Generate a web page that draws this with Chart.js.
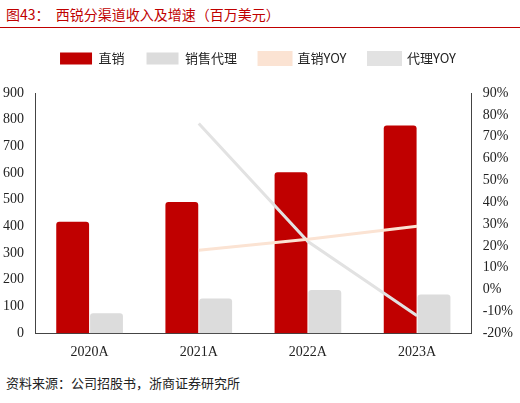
<!DOCTYPE html>
<html><head><meta charset="utf-8">
<script src="https://cdn.jsdelivr.net/npm/chart.js@4"></script>
<style>
body{margin:0;width:520px;height:403px;background:#fff;font-family:"Noto Sans CJK SC",sans-serif;position:relative;overflow:hidden}
#t{position:absolute;left:6px;top:4px;font-size:14px;color:#c00000}
#ln{position:absolute;left:0;top:27px;width:520px;height:1px;background:#c00000}
#wrap{position:absolute;left:0;top:30px;width:520px;height:334px}
#s{position:absolute;left:6px;top:373px;font-size:13px;color:#222}
</style></head><body>
<div id="t">图43：&nbsp;&nbsp;西锐分渠道收入及增速（百万美元）</div>
<div id="ln"></div>
<div id="wrap"><canvas id="c"></canvas></div>
<div id="s">资料来源：公司招股书，浙商证券研究所</div>
<script>
const categories=["2020A","2021A","2022A","2023A"];
const direct=[418,492,603,778];
const agent=[75,130,162,145];
const directYoy=[null,18,23,29];
const agentYoy=[null,76,22,-12];
const leftTicks=[0,900,100];
const rightTicks=[-20,90,10];
Chart.defaults.font.family='"Liberation Serif","Noto Sans CJK SC",serif';
Chart.defaults.font.size=13;
Chart.defaults.color='#222';
const legendPad={id:'lp',beforeInit(chart){const f=chart.legend.fit;chart.legend.fit=function(){f.bind(chart.legend)();this.height+=18;};}};
new Chart(document.getElementById('c'),{
 plugins:[legendPad],
 data:{labels:categories,datasets:[
  {type:'line',label:'直销YOY',data:directYoy,yAxisID:'y1',borderColor:'#fbe3d3',backgroundColor:'#fbe3d3',borderWidth:3,pointRadius:0,pointStyle:'line',order:0},
  {type:'line',label:'代理YOY',data:agentYoy,yAxisID:'y1',borderColor:'#e2e2e2',backgroundColor:'#e2e2e2',borderWidth:3,pointRadius:0,pointStyle:'line',order:0},
  {type:'bar',label:'直销',data:direct,yAxisID:'y',backgroundColor:'#c00000',borderRadius:3,order:1,barPercentage:0.97,categoryPercentage:0.62},
  {type:'bar',label:'销售代理',data:agent,yAxisID:'y',backgroundColor:'#dcdcdc',borderRadius:3,order:1,barPercentage:0.97,categoryPercentage:0.62}
 ]},
 options:{responsive:true,maintainAspectRatio:false,animation:false,
  layout:{padding:{left:0,right:4,top:0,bottom:0}},
  plugins:{legend:{position:'top',labels:{boxWidth:32,boxHeight:12,padding:22,font:{family:'"Noto Sans CJK SC",sans-serif',size:13},
     generateLabels(chart){const l=Chart.defaults.plugins.legend.labels.generateLabels(chart);l.forEach(i=>{if(chart.data.datasets[i.datasetIndex].type==='line'){i.pointStyle='line';i.lineWidth=3;i.strokeStyle=chart.data.datasets[i.datasetIndex].borderColor;}});return l;},
     usePointStyle:false,
     sort:(a,b)=>[2,3,0,1].indexOf(a.datasetIndex)-[2,3,0,1].indexOf(b.datasetIndex)}},tooltip:{enabled:false}},
  scales:{
   x:{grid:{display:false},border:{color:'#444'},ticks:{font:{size:14}}},
   y:{min:leftTicks[0],max:leftTicks[1],ticks:{stepSize:leftTicks[2],font:{size:14}},grid:{display:false},border:{color:'#444'}},
   y1:{position:'right',min:rightTicks[0],max:rightTicks[1],ticks:{stepSize:rightTicks[2],callback:v=>v+'%',font:{size:14}},grid:{display:false},border:{color:'#444'}}
  }}
});
</script></body></html>
